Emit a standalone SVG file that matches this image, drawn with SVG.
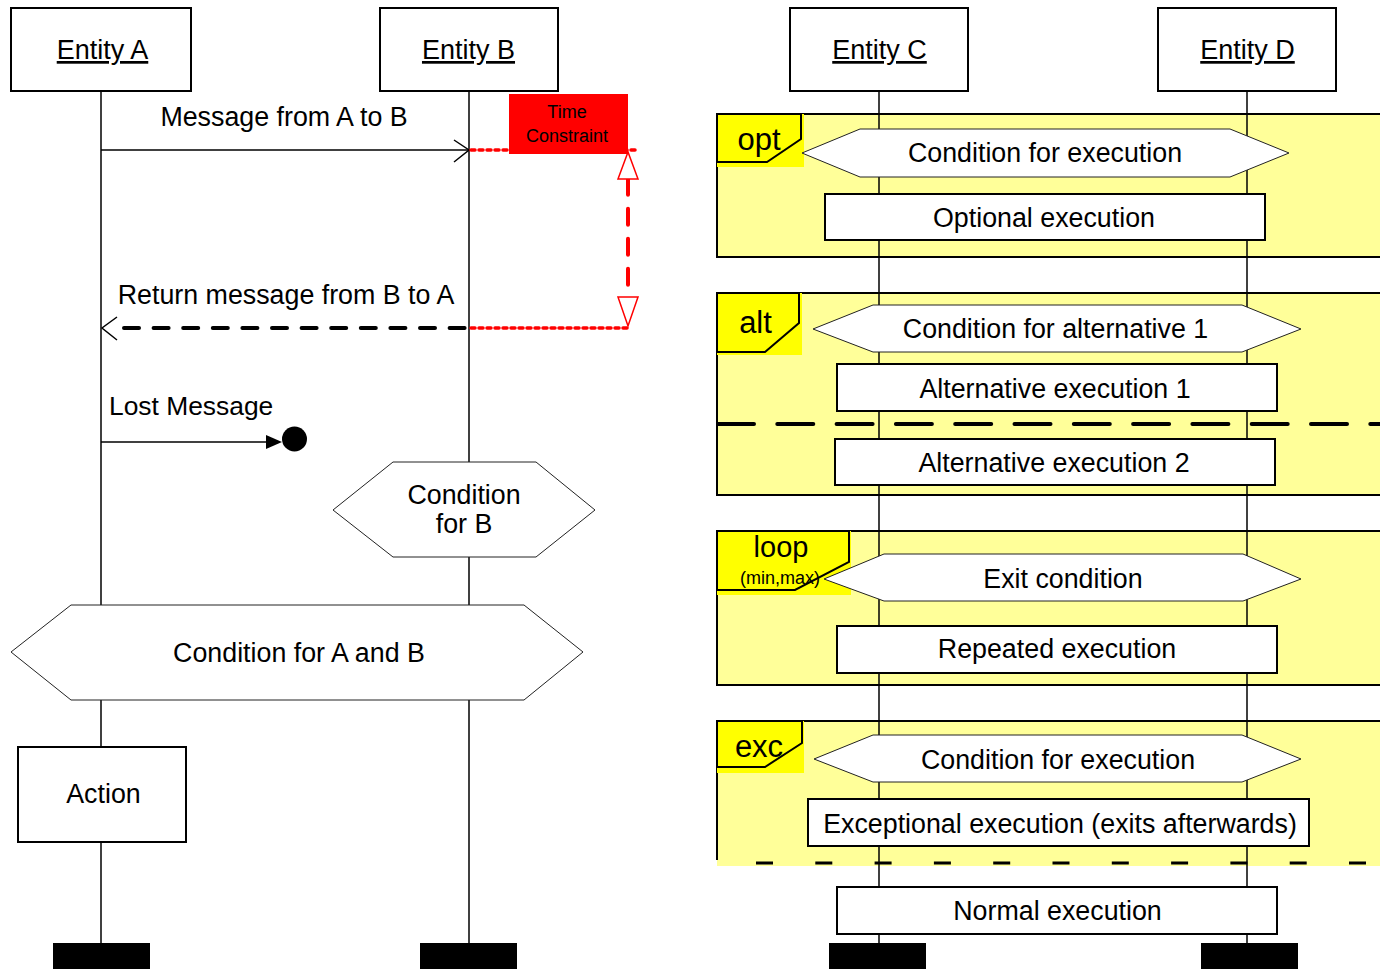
<svg xmlns="http://www.w3.org/2000/svg" width="1380" height="969" viewBox="0 0 1380 969">
<style>
text{font-family:"Liberation Sans",Arial,sans-serif;fill:#000}
.t{font-size:26.8px;text-anchor:middle}
.ent{font-size:27px;text-anchor:middle;text-decoration:underline}
.box{fill:#fff;stroke:#000;stroke-width:2}
.hex{fill:#fff;stroke:#222;stroke-width:1}
.life{stroke:#000;stroke-width:1.5;fill:none}
.end{fill:#000}
.frame{fill:#ffff99}
.fb{fill:none;stroke:#000;stroke-width:2}
.tagbg{fill:#ffff00}
.tag{fill:none;stroke:#000;stroke-width:2}
.tagt{font-size:31px;text-anchor:middle}
.red{stroke:#ff0000;stroke-width:3.5;stroke-linecap:round;stroke-dasharray:4 4;fill:none}
</style>

<!-- frames background -->
<g id="frames-bg">
<rect class="frame" x="717" y="114" width="670" height="143"/>
<rect class="frame" x="717" y="293" width="670" height="202"/>
<rect class="frame" x="717" y="531" width="670" height="154"/>
<rect class="frame" x="717" y="721" width="670" height="145"/>
</g>

<!-- lifelines -->
<g id="lifelines">
<line class="life" x1="101" y1="91" x2="101" y2="943"/>
<line class="life" x1="469" y1="91" x2="469" y2="943"/>
<line class="life" x1="879" y1="91" x2="879" y2="943"/>
<line class="life" x1="1247" y1="91" x2="1247" y2="943"/>
</g>

<!-- frame borders -->
<g id="frame-borders">
<path class="fb" d="M1385,114 H717 V257 H1385"/>
<path class="fb" d="M1385,293 H717 V495 H1385"/>
<path class="fb" d="M1385,531 H717 V685 H1385"/>
<path class="fb" d="M1385,721 H717 V860"/>
<line x1="756" y1="863" x2="1385" y2="863" stroke="#000" stroke-width="3" stroke-dasharray="17 42.3"/>
<line x1="718" y1="424" x2="1385" y2="424" stroke="#000" stroke-width="4" stroke-linecap="round" stroke-dasharray="36 23.3"/>
</g>

<!-- tags -->
<g id="tag-opt">
<rect class="tagbg" x="717" y="114" width="87" height="53"/>
<path class="tag" d="M717,114 H801 V139 L767,162 H717 Z"/>
</g>
<g id="tag-alt">
<rect class="tagbg" x="717" y="293" width="85" height="62"/>
<path class="tag" d="M717,293 H799 V323 L765,352 H717 Z"/>
</g>
<g id="tag-loop">
<rect class="tagbg" x="717" y="531" width="134" height="64"/>
<path class="tag" d="M717,531 H849 V562 L795,590 H717 Z"/>
</g>
<g id="tag-exc">
<rect class="tagbg" x="717" y="721" width="87" height="52"/>
<path class="tag" d="M717,721 H802 V743 L765,767 H717 Z"/>
</g>

<!-- connectors -->
<g id="connectors">
<line x1="101" y1="150" x2="468" y2="150" stroke="#000" stroke-width="1.5"/>
<polyline points="454,140 469,150 454,162" fill="none" stroke="#000" stroke-width="1.5"/>
<line x1="124" y1="328" x2="465" y2="328" stroke="#000" stroke-width="4" stroke-linecap="round" stroke-dasharray="15 14.6"/>
<polyline points="117,317 102,328 117,340" fill="none" stroke="#000" stroke-width="1.5"/>
<line x1="101" y1="442" x2="267" y2="442" stroke="#000" stroke-width="1.5"/>
<polygon points="266,435 282,442 266,449" fill="#000"/>
<circle cx="294.5" cy="439" r="12.5" fill="#000"/>
<line class="red" x1="471" y1="150" x2="636" y2="150"/>
<line class="red" x1="471" y1="328" x2="627" y2="328"/>
<line x1="628" y1="178.7" x2="628" y2="284.7" stroke="#ff0000" stroke-width="4" stroke-linecap="round" stroke-dasharray="16 14"/>
<polygon points="628,152 618,179 638,179" fill="#fff" stroke="#ff0000" stroke-width="1.5"/>
<polygon points="618,297 638,297 628,326" fill="#fff" stroke="#ff0000" stroke-width="1.5"/>
</g>

<!-- left side nodes -->
<g id="entity-a">
<rect class="box" x="11" y="8" width="180" height="83"/>
<text class="ent" x="102.5" y="59">Entity A</text>
</g>
<g id="entity-b">
<rect class="box" x="380" y="8" width="178" height="83"/>
<text class="ent" x="468.5" y="59">Entity B</text>
</g>
<g id="entity-c">
<rect class="box" x="790" y="8" width="178" height="83"/>
<text class="ent" x="879.5" y="59">Entity C</text>
</g>
<g id="entity-d">
<rect class="box" x="1158" y="8" width="178" height="83"/>
<text class="ent" x="1247.5" y="59">Entity D</text>
</g>

<g id="labels">
<text class="t" x="284" y="126">Message from A to B</text>
<text class="t" x="286" y="304">Return message from B to A</text>
<text x="109" y="415" style="font-size:26.4px">Lost Message</text>
</g>

<g id="time-constraint">
<rect x="509" y="94" width="119" height="60" fill="#ff0000"/>
<text x="567" y="118" style="font-size:18px;text-anchor:middle">Time</text>
<text x="567" y="142" style="font-size:18px;text-anchor:middle">Constraint</text>
</g>

<g id="cond-b">
<polygon class="hex" points="333,510 393,462 536,462 595,510 536,557 393,557"/>
<text class="t" x="464" y="504">Condition</text>
<text class="t" x="464" y="533">for B</text>
</g>

<g id="cond-ab">
<polygon class="hex" points="11,652 71,605 524,605 583,652 524,700 71,700"/>
<text class="t" x="299" y="662">Condition for A and B</text>
</g>

<g id="action">
<rect class="box" x="18" y="747" width="168" height="95"/>
<text class="t" x="103.5" y="803">Action</text>
</g>

<g id="end-bars">
<rect class="end" x="53" y="943" width="97" height="26"/>
<rect class="end" x="420" y="943" width="97" height="26"/>
<rect class="end" x="829" y="943" width="97" height="26"/>
<rect class="end" x="1201" y="943" width="97" height="26"/>
</g>

<!-- right side nodes -->
<g id="opt-cond">
<polygon class="hex" points="802,153 860,129 1230,129 1289,153 1230,177 860,177"/>
<text class="t" x="1045" y="162">Condition for execution</text>
</g>
<g id="opt-exec">
<rect class="box" x="825" y="194" width="440" height="46"/>
<text class="t" x="1044" y="227">Optional execution</text>
</g>

<g id="alt-cond">
<polygon class="hex" points="813,329 873,305 1242,305 1301,329 1242,352 873,352"/>
<text class="t" x="1055.5" y="338">Condition for alternative 1</text>
</g>
<g id="alt-exec-1">
<rect class="box" x="837" y="364" width="440" height="47"/>
<text class="t" x="1055" y="398">Alternative execution 1</text>
</g>
<g id="alt-exec-2">
<rect class="box" x="835" y="439" width="440" height="46"/>
<text class="t" x="1054" y="472">Alternative execution 2</text>
</g>

<g id="loop-cond">
<polygon class="hex" points="824,579 884,554 1243,554 1301,579 1243,601 884,601"/>
<text class="t" x="1063" y="588">Exit condition</text>
</g>
<g id="loop-exec">
<rect class="box" x="837" y="626" width="440" height="47"/>
<text class="t" x="1057" y="658">Repeated execution</text>
</g>

<g id="exc-cond">
<polygon class="hex" points="814,759 873,735 1242,735 1301,759 1242,782 873,782"/>
<text class="t" x="1058" y="769">Condition for execution</text>
</g>
<g id="exc-exec">
<rect class="box" x="808" y="799" width="501" height="47"/>
<text class="t" x="1060" y="833">Exceptional execution (exits afterwards)</text>
</g>

<g id="normal-exec">
<rect class="box" x="837" y="887" width="440" height="47"/>
<text class="t" x="1057.5" y="920">Normal execution</text>
</g>

<g id="tag-labels">
<text class="tagt" x="759" y="150">opt</text>
<text class="tagt" x="755.5" y="333">alt</text>
<text x="781" y="557" style="font-size:29px;text-anchor:middle">loop</text>
<text x="780" y="584" style="font-size:18px;text-anchor:middle">(min,max)</text>
<text class="tagt" x="759" y="757">exc</text>
</g>
</svg>
